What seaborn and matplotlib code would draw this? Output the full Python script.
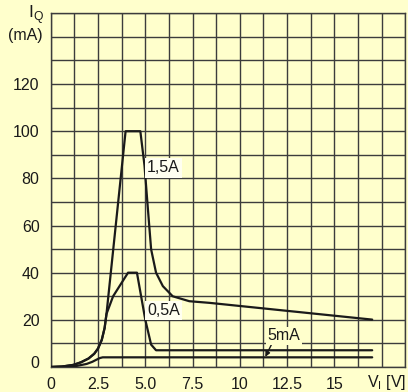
import matplotlib
matplotlib.use("Agg")
import matplotlib.pyplot as plt
import matplotlib.transforms as mtransforms
import seaborn as sns
import numpy as np

# curve: V_I [V] -> I_Q [mA]
v_15a = [0, 0.6, 1.2, 1.6, 2.0, 2.3, 2.5, 2.7, 2.85, 2.95, 3.96, 4.74, 4.96, 5.14, 5.31,
         5.57, 5.93, 6.45, 7.33, 8.4, 17.0]
i_15a = [0, 0.2, 0.9, 2.0, 3.6, 5.6, 7.8, 11.5, 16.5, 22.5, 100, 100, 85.4, 67, 49.9,
         40, 34.3, 30, 27.9, 27.2, 20.1]

v_05a = [0, 0.6, 1.2, 1.6, 2.0, 2.3, 2.5, 2.7, 2.85, 2.95, 3.3, 4.09, 4.56, 5.0, 5.31,
         5.57, 17.0]
i_05a = [0, 0.2, 0.9, 2.0, 3.6, 5.6, 7.8, 11.5, 16.5, 22.5, 30, 40, 40, 20.1, 9.5,
         7.1, 7.1]

v_5ma = [0, 0.8, 1.4, 1.9, 2.2, 2.42, 2.6, 2.75, 17.0]
i_5ma = [0, 0.1, 0.5, 1.3, 2.2, 3.1, 3.8, 4.1, 4.1]

x_ticks = [0, 2.5, 5.0, 7.5, 10, 12.5, 15]
x_labels = ["0", "2.5", "5.0", "7.5", "10", "12.5", "15"]
y_ticks = [0, 20, 40, 60, 80, 100, 120]

bg = "#FFFFCC"
grid_col = "#3c3c3c"
txt_col = "#1a1a1a"

sns.set_style("white")
plt.rcParams["font.family"] = ["Liberation Sans", "DejaVu Sans"]
plt.rcParams["mathtext.fontset"] = "custom"
plt.rcParams["mathtext.rm"] = "Liberation Sans"

fig = plt.figure(figsize=(4.08, 3.92), dpi=100, facecolor=bg)
ax = fig.add_axes([50.7 / 408, 1 - 367 / 392, (405.3 - 50.7) / 408, (367 - 13.3) / 392])
ax.set_facecolor(bg)

for v, i in [(v_5ma, i_5ma), (v_05a, i_05a), (v_15a, i_15a)]:
    sns.lineplot(x=v, y=i, ax=ax, color=txt_col, linewidth=1.6, sort=False,
                 estimator=None, zorder=3)

ax.set_xlim(0, 18.75)
ax.set_ylim(0, 150)
ax.set_xticks(x_ticks)
ax.set_xticklabels(x_labels)
ax.set_xticks(np.arange(0, 18.76, 1.25), minor=True)
ax.set_yticks(y_ticks)
ax.set_yticks(np.arange(0, 151, 10), minor=True)
ax.tick_params(which="both", length=0, labelsize=11.5, colors=txt_col)
ax.tick_params(axis="x", pad=7)
ax.tick_params(axis="y", pad=8)
ax.grid(True, which="both", color=grid_col, linewidth=1.0, zorder=1)
ax.set_axisbelow(True)
for s in ax.spines.values():
    s.set_color(grid_col)
    s.set_linewidth(1.0)

# nudge the "0" label up a little as in the reference
lbl0 = ax.get_yticklabels()[0]
lbl0.set_transform(lbl0.get_transform() + mtransforms.ScaledTranslation(0, 5 / 100, fig.dpi_scale_trans))

# axis titles in the corners
ax.annotate(r"I$_\mathrm{Q}$", xy=(0, 150), xycoords="data", xytext=(-7, -5),
            textcoords="offset pixels", ha="right", va="baseline", fontsize=12.5,
            color=txt_col, annotation_clip=False)
ax.annotate("(mA)", xy=(0, 141), xycoords="data", xytext=(-8, -1),
            textcoords="offset pixels", ha="right", va="center", fontsize=11.5,
            color=txt_col, annotation_clip=False)
ax.annotate(r"V$_\mathrm{I}$ [V]", xy=(17.75, 0), xycoords="data", xytext=(0, -15),
            textcoords="offset pixels", ha="center", va="center", fontsize=11.5,
            color=txt_col, annotation_clip=False)

# curve labels
box = dict(boxstyle="square,pad=0.15", facecolor="#FFFFF0", edgecolor="none")
ax.text(5.1, 84.4, "1,5A", fontsize=11.5, color=txt_col, ha="left", va="center",
        bbox=box, zorder=4)
ax.text(5.1, 24, "0,5A", fontsize=11.5, color=txt_col, ha="left", va="center",
        bbox=box, zorder=4)
ax.annotate("5mA", xy=(11.35, 4.3), xytext=(11.45, 13.3), fontsize=11.5,
            color=txt_col, ha="left", va="center",
            bbox=dict(boxstyle="square,pad=0.1", facecolor=bg, edgecolor="none"),
            arrowprops=dict(arrowstyle="-|>", color=txt_col, lw=1.0,
                            mutation_scale=7, shrinkA=0, shrinkB=0,
                            relpos=(0.15, 0)),
            zorder=4)

fig.savefig("out.png", dpi=100, facecolor=bg)
